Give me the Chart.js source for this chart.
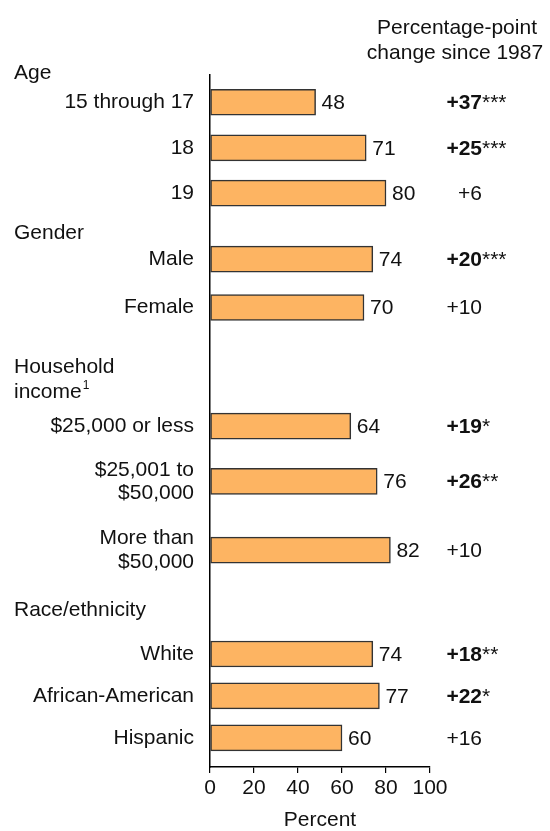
<!DOCTYPE html>
<html>
<head>
<meta charset="utf-8">
<script src="https://cdn.jsdelivr.net/npm/chart.js@4/dist/chart.umd.min.js"></script>
<style>
    body { margin: 0; background: #fff; }
    #wrap { width: 550px; height: 831px; }
</style>
</head>
<body>
<div id="wrap"><canvas id="chart" width="550" height="831"></canvas></div>
<script>
// data
const categories = ['15 through 17', '18', '19', 'Male', 'Female', '$25,000 or less',
    ['$25,001 to', '$50,000'], ['More than', '$50,000'], 'White', 'African-American', 'Hispanic'];
const percent = [48, 71, 80, 74, 70, 64, 76, 82, 74, 77, 60];
const change = [37, 25, 6, 20, 10, 19, 26, 10, 18, 22, 16];
const signif = ['***', '***', '', '***', '', '*', '**', '', '**', '*', ''];
const groups = ['Age', 'Gender', 'Household', 'Race/ethnicity'];
const xTicks = [0, 20, 40, 60, 80, 100];

// row layout (y scale units, 0 at top)
const rowPos = [0.59, 1.58, 2.56, 3.99, 5.04, 7.61, 8.81, 10.30, 12.55, 13.46, 14.37];
const groupPos = [-0.04, 3.43, 6.33, 11.60];

const FONT = '"Liberation Sans", Arial, sans-serif';

const labelsPlugin = {
    id: 'labels',
    afterDatasetsDraw(chart) {
        const ctx = chart.ctx;
        const meta = chart.getDatasetMeta(0);
        const right = chart.chartArea.right;
        ctx.save();
        ctx.fillStyle = '#111';
        ctx.textBaseline = 'middle';
        meta.data.forEach((bar, i) => {
            ctx.font = '21px ' + FONT;
            ctx.textAlign = 'left';
            ctx.fillText(percent[i], bar.x + 6, bar.y + 1);
            // change since 1987
            const x = right + 52;
            ctx.font = (signif[i] ? 'bold ' : '') + '21px ' + FONT;
            ctx.textAlign = 'right';
            ctx.fillText('+' + change[i], x, bar.y + 1);
            if (signif[i]) {
                ctx.font = '21px ' + FONT;
                ctx.textAlign = 'left';
                ctx.fillText(signif[i], x, bar.y + 1);
            }
        });
        ctx.restore();
    },
    afterDraw(chart) {
        const ctx = chart.ctx;
        const ys = chart.scales.y;
        ctx.save();
        ctx.fillStyle = '#111';
        ctx.textBaseline = 'middle';
        ctx.font = '21px ' + FONT;
        ctx.textAlign = 'left';
        groups.forEach((g, i) => {
            ctx.fillText(g, 14, ys.getPixelForValue(groupPos[i]));
        });
        // second line of household income, with footnote mark
        const yInc = ys.getPixelForValue(groupPos[2]) + 25;
        ctx.fillText('income', 14, yInc);
        const w = ctx.measureText('income').width;
        ctx.font = '12px ' + FONT;
        ctx.fillText('1', 14 + w + 1, yInc - 6);
        // column heading
        ctx.font = '21px ' + FONT;
        ctx.textAlign = 'center';
        ctx.fillText('Percentage-point', 457, 28);
        ctx.fillText('change since 1987', 455, 53);
        ctx.restore();
    }
};

new Chart(document.getElementById('chart'), {
    type: 'bar',
    data: {
        datasets: [{
            data: percent.map((v, i) => ({ x: v, y: rowPos[i] })),
            backgroundColor: '#FDB462',
            borderColor: '#333',
            borderWidth: 1.5,
            borderSkipped: false,
            barThickness: 26
        }]
    },
    options: {
        indexAxis: 'y',
        responsive: false,
        animation: false,
        layout: { padding: { top: 75, right: 120, bottom: 0, left: 0 } },
        plugins: { legend: { display: false }, tooltip: { enabled: false } },
        scales: {
            x: {
                type: 'linear',
                min: 0,
                max: 100,
                afterBuildTicks: s => { s.ticks = xTicks.map(v => ({ value: v })); },
                afterFit: s => { s.height = 64; },
                grid: { drawOnChartArea: false, drawTicks: true, tickLength: 6, color: '#000', lineWidth: 1.2 },
                border: { display: true, color: '#000', width: 1.5 },
                ticks: { color: '#111', font: { family: FONT, size: 21 }, padding: 3, maxRotation: 0 },
                title: { display: true, text: 'Percent', color: '#111', font: { family: FONT, size: 21, lineHeight: 1 }, padding: { top: 4, bottom: 0 } }
            },
            y: {
                type: 'linear',
                min: 0,
                max: 15,
                reverse: true,
                offset: false,
                afterBuildTicks: s => { s.ticks = rowPos.map(v => ({ value: v })); },
                afterFit: s => { s.width = 210; },
                grid: { display: false, offset: false },
                border: { display: true, color: '#000', width: 1.5 },
                ticks: {
                    autoSkip: false,
                    padding: 8,
                    color: '#111',
                    font: { family: FONT, size: 21, lineHeight: 1.1 },
                    callback: (v, i) => categories[i]
                }
            }
        }
    },
    plugins: [labelsPlugin]
});
</script>
</body>
</html>
